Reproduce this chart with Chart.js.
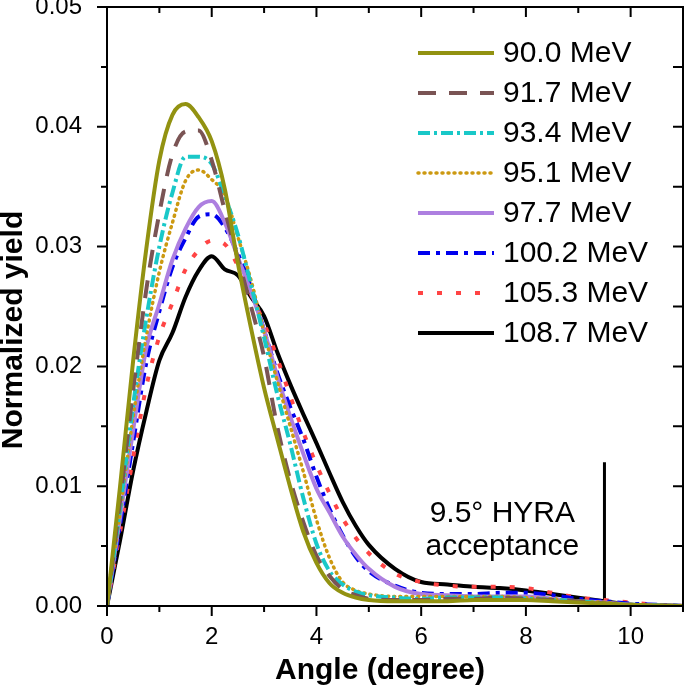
<!DOCTYPE html>
<html>
<head>
<meta charset="utf-8">
<script src="https://cdn.jsdelivr.net/npm/chart.js@4.4.0/dist/chart.umd.min.js"></script>
<style>
  html, body { margin: 0; padding: 0; background: #fff; }
</style>
</head>
<body>
<canvas id="chart" width="685" height="690"></canvas>
<script>
// angle grid (degree) shared by all curves
const angle = [0, 0.25, 0.5, 0.75, 1, 1.25, 1.5, 1.75, 2, 2.25, 2.5, 2.75, 3, 3.25, 3.5, 3.75, 4, 4.25, 4.5, 4.75, 5,
               5.5, 6, 6.5, 7, 7.5, 8, 8.5, 9, 9.5, 10, 10.5, 11];

const yield900 = [0, 0.0100, 0.0205, 0.0298, 0.0372, 0.0410, 0.0419, 0.0408, 0.0388, 0.0348, 0.0286, 0.0232, 0.0182, 0.0140, 0.0099, 0.0062, 0.0036, 0.0019, 0.0011, 0.0007, 0.0005,
                  0.0004, 0.0004, 0.0004, 0.0005, 0.0005, 0.0005, 0.0004, 0.0003, 0.0002, 0.0001, 0.00005, 0];
const yield917 = [0, 0.0088, 0.0180, 0.0264, 0.0328, 0.0377, 0.0396, 0.0397, 0.0372, 0.0330, 0.0290, 0.0250, 0.0208, 0.0150, 0.0105, 0.0070, 0.0042, 0.0025, 0.0014, 0.0009, 0.0006,
                  0.0005, 0.0005, 0.0006, 0.0006, 0.0007, 0.0006, 0.0005, 0.0004, 0.0002, 0.0001, 0.00005, 0];
const yield934 = [0, 0.0082, 0.0168, 0.0240, 0.0300, 0.0345, 0.0375, 0.0375, 0.0369, 0.0342, 0.0310, 0.0268, 0.0224, 0.0177, 0.0135, 0.0090, 0.0052, 0.0029, 0.0018, 0.0012, 0.0009,
                  0.0007, 0.0006, 0.0007, 0.0007, 0.0007, 0.0006, 0.0005, 0.0004, 0.0002, 0.0001, 0.00005, 0];
const yield951 = [0, 0.0078, 0.0158, 0.0225, 0.0279, 0.0320, 0.0355, 0.0364, 0.0356, 0.0343, 0.0308, 0.0272, 0.0228, 0.0188, 0.0150, 0.0112, 0.0072, 0.0040, 0.0020, 0.0013, 0.0010,
                  0.0008, 0.0008, 0.0008, 0.0008, 0.0008, 0.0007, 0.0006, 0.0004, 0.0003, 0.0001, 0.00005, 0];
const yield977 = [0, 0.0074, 0.0147, 0.0215, 0.0252, 0.0289, 0.0315, 0.0333, 0.0338, 0.0320, 0.0291, 0.0262, 0.0230, 0.0192, 0.0158, 0.0127, 0.0098, 0.0078, 0.0058, 0.0043, 0.0031,
                  0.0016, 0.0010, 0.0009, 0.0008, 0.0008, 0.0008, 0.0006, 0.0004, 0.0003, 0.0001, 0.00005, 0];
const yield1002 = [0, 0.0068, 0.0137, 0.0203, 0.0246, 0.0283, 0.0307, 0.0325, 0.0327, 0.0316, 0.0294, 0.0266, 0.0230, 0.0195, 0.0166, 0.0139, 0.0108, 0.0081, 0.0059, 0.0041, 0.0029,
                   0.0017, 0.0011, 0.0010, 0.0010, 0.0011, 0.0011, 0.0009, 0.0006, 0.0004, 0.0002, 0.0001, 0];
const yield1053 = [0, 0.0062, 0.0124, 0.0183, 0.0225, 0.0253, 0.0281, 0.0297, 0.0305, 0.0302, 0.0284, 0.0260, 0.0236, 0.0207, 0.0175, 0.0145, 0.0118, 0.0094, 0.0073, 0.0057, 0.0044,
                   0.0027, 0.0020, 0.0017, 0.0016, 0.0016, 0.0015, 0.0011, 0.0007, 0.0005, 0.0003, 0.0001, 0];
const yield1087 = [0, 0.0055, 0.0113, 0.0162, 0.0205, 0.0228, 0.0258, 0.0280, 0.0292, 0.0281, 0.0276, 0.0258, 0.0242, 0.0212, 0.0185, 0.0160, 0.0136, 0.0111, 0.0087, 0.0067, 0.0051,
                   0.0031, 0.0020, 0.0018, 0.0016, 0.0015, 0.0013, 0.0010, 0.0007, 0.0004, 0.0001, 0.00005, 0];

const energies = ["90.0 MeV", "91.7 MeV", "93.4 MeV", "95.1 MeV", "97.7 MeV", "100.2 MeV", "105.3 MeV", "108.7 MeV"];
const series = [yield900, yield917, yield934, yield951, yield977, yield1002, yield1053, yield1087];

// HYRA acceptance marker
const acceptanceX = [9.5, 9.5];
const acceptanceY = [0, 0.012];

const xTicks = [0, 2, 4, 6, 8, 10];
const yTicks = [0, 0.01, 0.02, 0.03, 0.04, 0.05];

const styles = [
    { color: "#929211", dash: [], cap: "butt", width: 4 },
    { color: "#7a5454", dash: [18, 13], cap: "butt", width: 4 },
    { color: "#19c8c8", dash: [12, 4, 3, 4], cap: "butt", width: 4 },
    { color: "#cc9911", dash: [1, 5], cap: "round", width: 3.5 },
    { color: "#ad7fe0", dash: [], cap: "butt", width: 4 },
    { color: "#0000ee", dash: [12, 6, 4, 6], cap: "butt", width: 4 },
    { color: "#f44", dash: [5, 14], cap: "butt", width: 4 },
    { color: "#000", dash: [], cap: "butt", width: 4 }
];

const FONT = "'Liberation Sans', Arial, sans-serif";

const datasets = series.map((vals, i) => ({
    label: energies[i],
    data: angle.map((a, k) => ({ x: a, y: vals[k] })),
    borderColor: styles[i].color,
    borderDash: styles[i].dash,
    borderCapStyle: styles[i].cap,
    borderWidth: styles[i].width,
    pointRadius: 0,
    cubicInterpolationMode: "monotone",
    fill: false
}));

datasets.push({
    label: "acceptance",
    data: acceptanceX.map((a, k) => ({ x: a, y: acceptanceY[k] })),
    borderColor: "#000",
    borderWidth: 3,
    pointRadius: 0
});

// frame, minor ticks, axis titles, legend and the HYRA note
const decorations = {
    id: "decorations",
    afterDraw(chart) {
        const { ctx, chartArea: a, scales } = chart;
        const x = scales.x, y = scales.y;
        ctx.save();
        ctx.strokeStyle = "#000";
        ctx.lineWidth = 2;
        ctx.setLineDash([]);
        ctx.strokeRect(a.left, a.top, a.right - a.left, a.bottom - a.top);

        ctx.beginPath();
        for (let v = 0; v <= 11; v++) {
            const px = x.getPixelForValue(v);
            const len = v % 2 === 0 ? 10 : 6;
            ctx.moveTo(px, a.bottom); ctx.lineTo(px, a.bottom + len);
            ctx.moveTo(px, a.top); ctx.lineTo(px, a.top + len);
        }
        for (let i = 0; i <= 10; i++) {
            const py = y.getPixelForValue(i * 0.005);
            const len = i % 2 === 0 ? 10 : 6;
            ctx.moveTo(a.left, py); ctx.lineTo(a.left - len, py);
            ctx.moveTo(a.right, py); ctx.lineTo(a.right - 10, py);
        }
        ctx.stroke();

        // axis titles
        ctx.fillStyle = "#000";
        ctx.font = "bold 30px " + FONT;
        ctx.textAlign = "center";
        ctx.textBaseline = "middle";
        ctx.fillText("Angle (degree)", 380, 671);
        ctx.save();
        ctx.translate(14, 330);
        ctx.rotate(-Math.PI / 2);
        ctx.fillText("Normalized yield", 0, 0);
        ctx.restore();

        // note next to the acceptance line
        ctx.font = "30px " + FONT;
        ctx.textBaseline = "alphabetic";
        const nx = x.getPixelForValue(7.55);
        ctx.fillText("9.5\u00b0 HYRA", nx, 522);
        ctx.fillText("acceptance", nx, 555);

        // legend
        ctx.textAlign = "left";
        ctx.textBaseline = "middle";
        chart.data.datasets.slice(0, energies.length).forEach((ds, i) => {
            const ly = 53 + i * 40;
            ctx.beginPath();
            ctx.strokeStyle = ds.borderColor;
            ctx.lineWidth = ds.borderWidth;
            ctx.lineCap = ds.borderCapStyle;
            ctx.setLineDash(ds.borderDash);
            ctx.moveTo(418, ly);
            ctx.lineTo(494, ly);
            ctx.stroke();
            ctx.fillStyle = "#000";
            ctx.fillText(ds.label, 503, ly + 1);
        });
        ctx.restore();
    }
};

new Chart(document.getElementById("chart").getContext("2d"), {
    type: "line",
    data: { datasets: datasets },
    options: {
        responsive: false,
        animation: false,
        devicePixelRatio: 1,
        layout: { padding: { top: 7, right: 2, left: 0, bottom: 0 } },
        plugins: { legend: { display: false }, tooltip: { enabled: false } },
        scales: {
            x: {
                type: "linear",
                min: 0,
                max: 11,
                grid: { display: false, drawTicks: false },
                border: { display: false },
                ticks: {
                    stepSize: 2,
                    includeBounds: false,
                    padding: 17,
                    color: "#000",
                    font: { family: FONT, size: 24 },
                    callback: v => xTicks.includes(v) ? String(v) : ""
                },
                afterFit: s => { s.height = 84; s.paddingLeft = 0; s.paddingRight = 0; }
            },
            y: {
                min: 0,
                max: 0.05,
                grid: { display: false, drawTicks: false },
                border: { display: false },
                ticks: {
                    stepSize: 0.01,
                    padding: 25,
                    color: "#000",
                    font: { family: FONT, size: 24 },
                    callback: v => yTicks.some(t => Math.abs(t - v) < 1e-9) ? v.toFixed(2) : ""
                },
                afterFit: s => { s.width = 107; s.paddingTop = 0; s.paddingBottom = 0; }
            }
        }
    },
    plugins: [decorations]
});
</script>
</body>
</html>
